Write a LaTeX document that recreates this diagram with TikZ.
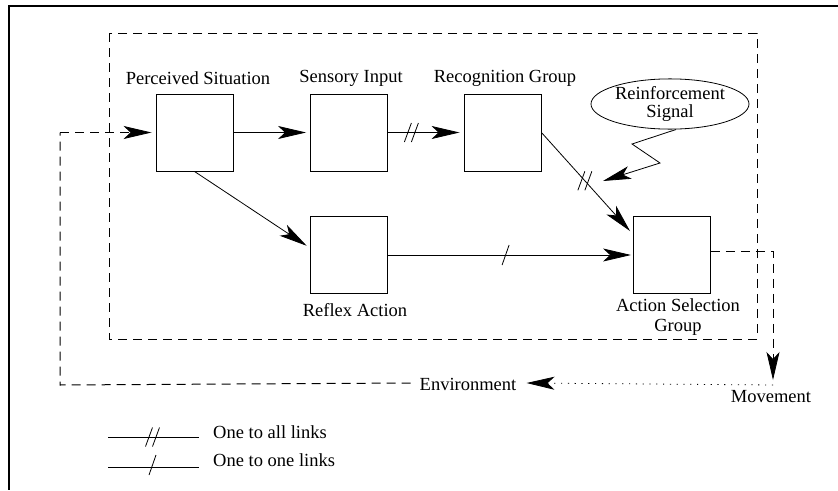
\documentclass[tikz,border=0pt]{standalone}
\usepackage{fontspec}
\setmainfont{Liberation Serif}
\usetikzlibrary{arrows.meta,shapes.geometric,calc}

\tikzset{
  unitbox/.style={draw, line width=0.9pt, minimum width=77pt, minimum height=77pt, inner sep=0pt},
  lbl/.style={font=\fontsize{18.5}{20}\selectfont, inner sep=0pt, align=center},
  link/.style={line width=0.8pt, -{Stealth[length=28pt,width=13pt,inset=7pt]}, shorten >=4pt},
  dashline/.style={line width=1pt, dash pattern=on 9pt off 6pt},
  dotline/.style={line width=1pt, dash pattern=on 1.2pt off 5.6pt},
  allmark/.pic={\draw[line width=0.8pt] (-7,9.5) -- (0,-9.5);
                \draw[line width=0.8pt] (0,9.5) -- (7,-9.5);},
  onemark/.pic={\draw[line width=0.8pt] (-3.5,10) -- (3.5,-10);}
}

\begin{document}
\begin{tikzpicture}[x=1pt,y=-1pt]
\useasboundingbox (0,0) rectangle (838,490);

% frame
\draw[line width=2pt] (838,6) -- (9,6) -- (9,490);

% agent boundary
\draw[dashline] (109,33) rectangle (757,339);

% units
\node[unitbox] (ps)  at (194.5,132.5) {};
\node[unitbox] (si)  at (349,132.5) {};
\node[unitbox] (rg)  at (502.5,132.5) {};
\node[unitbox] (rf)  at (349,255) {};
\node[unitbox] (asg) at (672,255) {};

\node[lbl] (psl) at (198,78) {Perceived Situation};
\node[lbl] (sil) at (351,78) {Sensory Input};
\node[lbl] (rgl) at (505,78) {Recognition Group};
\node[lbl] (rfl) at (355,310) {Reflex Action};
\node[lbl] (asgl) at (678,317) {Action Selection\\Group};

% reinforcement signal
\node[draw, ellipse, line width=0.8pt, minimum width=158pt, minimum height=45pt, inner sep=0pt,
      font=\fontsize{18.5}{18.5}\selectfont, align=center] (rs) at (670,104) {Reinforcement\\Signal};
\coordinate (z1) at (632,144);
\coordinate (z2) at (660,163);
\coordinate (z3) at (603,181);
\draw[link, shorten >=0pt] ([xshift=6pt]rs.south) -- (z1) -- (z2) -- (z3);

% forward links
\draw[link] (ps.east) -- (si.west);
\draw[link] (si.east) -- coordinate[pos=0.31] (m1) (rg.west);
\pic at (m1) {allmark};
\draw[link] (ps.south) -- ([yshift=7pt]rf.west);
\draw[link, shorten >=0pt] (rg.east) -- coordinate[pos=0.49] (m2) ([xshift=-3pt,yshift=-15pt]asg.north west);
\pic at (m2) {allmark};
\draw[link, shorten >=2pt] (rf.east) -- coordinate[pos=0.48] (m3) (asg.west);
\pic at (m3) {onemark};

% environment loop
\coordinate (asgout) at ([yshift=4pt]asg.east);
\coordinate (mvtop) at (773,380);
\coordinate (mv) at (773,385);
\node[lbl, anchor=north] (mvl) at (771,390) {Movement};
\node[lbl] (env) at (468,384) {Environment};
\coordinate (bl) at (60,385);
\coordinate (tl) at (60,132.5);

\draw[dashline, link, shorten >=0pt] (asgout) -| (mvtop);
\draw[dotline, link, shorten >=0pt] (mv) -- ([xshift=10pt,yshift=1pt]env.east);
\draw[dashline] ([xshift=-9pt,yshift=1pt]env.west) -- (bl) -- (tl);
\draw[dashline, link] (tl) -- (ps.west);

% legend
\coordinate (la1) at (108,437);
\coordinate (la2) at (199,437);
\coordinate (lb1) at (108,467);
\coordinate (lb2) at (199,467);
\draw[line width=0.8pt] (la1) -- coordinate[pos=0.5] (lam) (la2);
\pic at ([xshift=-1pt]lam) {allmark};
\draw[line width=0.8pt] (lb1) -- coordinate[pos=0.5] (lbm) (lb2);
\pic at ([xshift=-1pt,yshift=2pt]lbm) {onemark};
\node[lbl, anchor=west] (lat) at (213,432) {One to all links};
\node[lbl, anchor=west] (lbt) at (213,460) {One to one links};
\end{tikzpicture}
\end{document}
